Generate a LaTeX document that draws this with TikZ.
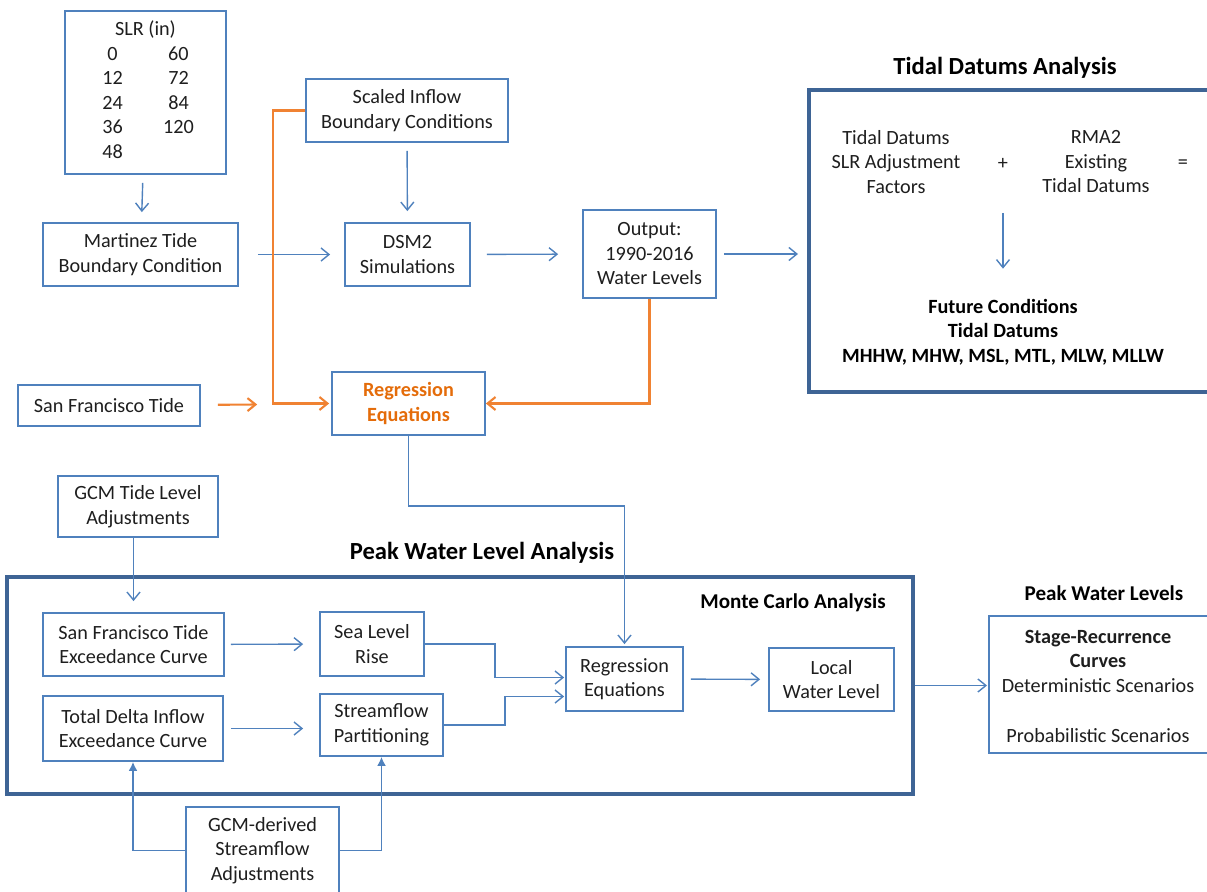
\documentclass[tikz,border=0pt]{standalone}
\usepackage{fontspec}
\setmainfont{Carlito}
\usetikzlibrary{arrows.meta}
\usetikzlibrary{calc}

\definecolor{lineblue}{RGB}{79,129,189}
\definecolor{frameblue}{RGB}{62,100,149}
\definecolor{lineorange}{RGB}{240,130,50}
\definecolor{textorange}{RGB}{228,108,10}
\definecolor{textgray}{RGB}{30,30,30}

\tikzset{
  box/.style={draw=lineblue, line width=1pt, align=center, inner sep=0pt, text=textgray},
  bigframe/.style={draw=frameblue, line width=2.2pt},
  txt/.style={align=center, inner sep=0pt, text=textgray},
  heading/.style={font=\fontsize{14}{17}\selectfont\bfseries, inner sep=0pt, text=black},
  subheading/.style={font=\fontsize{12}{14.5}\selectfont\bfseries, inner sep=0pt, text=black},
  barrow/.style={draw=lineblue, line width=0.8pt, arrows = -{Straight Barb[length=1.6mm,width=2.6mm]}},
  oarrow/.style={color=lineorange, line width=1.2pt, arrows = -{Straight Barb[length=1.6mm,width=2.6mm]}},
  farrow/.style={draw=lineblue, line width=1pt, arrows = -{Latex[length=1.8mm,width=1.8mm]}}
}

\newcommand{\slrcol}[2]{\makebox[1.32cm]{#1}\makebox[1.32cm]{#2}}

\begin{document}
\begin{tikzpicture}[x=0.02cm, y=-0.02cm, font=\fontsize{11.5}{13.95}\selectfont]

            %\draw [help lines] (0,0) grid (1207,892);
            \useasboundingbox (0,0) rectangle (1207,892);

            % upper half: tides and DSM2 runs
            \path   (145.5,92.5)  node (slr) [box, minimum width=3.22cm, minimum height=3.26cm]
                        {SLR (in)\\ \slrcol{0}{60}\\ \slrcol{12}{72}\\ \slrcol{24}{84}\\ \slrcol{36}{120}\\ \slrcol{48}{}\\[-0.37cm]\mbox{}}
                    (140.5,254.5) node (mart) [box, minimum width=3.9cm, minimum height=1.26cm] {Martinez Tide\\Boundary Condition}
                    (407,110.5)   node (scaled) [box, minimum width=4.04cm, minimum height=1.26cm] {Scaled Inflow\\Boundary Conditions}
                    (407.5,254.5) node (dsm) [box, minimum width=2.5cm, minimum height=1.26cm] {DSM2\\Simulations}
                    (649.5,254)   node (outp) [box, minimum width=2.66cm, minimum height=1.76cm] {Output:\\1990-2016\\Water Levels}
                    (109,405.5)   node (sf) [box, minimum width=3.64cm, minimum height=0.82cm] {San Francisco Tide}
                    (408.5,403.5) node (regr) [box, minimum width=3.06cm, minimum height=1.26cm, text=textorange, font=\fontsize{11.5}{13.95}\selectfont\bfseries] {Regression\\Equations};

            % tidal datums frame (runs off the right edge)
            \draw[bigframe] (1207,90) -| (809,392) -- (1207,392);
            \coordinate (tdl) at (809,254);
            \path   (1005,68)  node (tda) [heading] {Tidal Datums Analysis}
                    (896,162)  node (adj) [txt] {Tidal Datums\\SLR Adjustment\\Factors}
                    (1003,164) node (plus) [txt] {+}
                    (1096,162) node (rma) [txt] {RMA2\\Existing\\Tidal Datums}
                    (1183,164) node (eq) [txt] {=}
                    (1003,332) node (fut) [txt, font=\fontsize{11.5}{13.95}\selectfont\bfseries, text=black]
                        {Future Conditions\\Tidal Datums\\MHHW, MHW, MSL, MTL, MLW, MLLW};

            \draw[barrow, shorten <=0.16cm, shorten >=0.2cm] (slr) -- (mart);
            \draw[barrow, shorten <=0.16cm, shorten >=0.22cm] (scaled) -- (dsm);
            \draw[barrow, shorten <=0.38cm, shorten >=0.28cm] (mart) -- (dsm);
            \draw[barrow, shorten <=0.32cm, shorten >=0.48cm] (dsm) -- (outp);
            \draw[barrow, shorten <=0.14cm, shorten >=0.22cm] (outp) -- (tdl);
            \draw[barrow, shorten <=0.98cm, shorten >=0.6cm] (plus.center) -- (fut.north);

            \draw[oarrow, shorten <=0.34cm, shorten >=1.48cm] (sf) -- (regr);
            \draw[oarrow, shorten >=0.04cm] (scaled.west) -- ++(-32,0) |- (regr.west);
            \draw[oarrow] (outp.south) |- (regr.east);

            % lower half: peak water levels
            \path   (460,685.5)   node (peak) [bigframe, minimum width=18.12cm, minimum height=4.34cm] {}
                    (482,553)     node (pwla) [heading] {Peak Water Level Analysis}
                    (793,603)     node (mca) [subheading] {Monte Carlo Analysis}
                    (1104,593)    node (pwl) [subheading] {Peak Water Levels}
                    (138,506.5)   node (gcmt) [box, minimum width=3.2cm, minimum height=1.22cm] {GCM Tide Level\\Adjustments}
                    (133.5,644.5) node (sfx) [box, minimum width=3.62cm, minimum height=1.26cm] {San Francisco Tide\\Exceedance Curve}
                    (133,728.5)   node (tdi) [box, minimum width=3.6cm, minimum height=1.3cm] {Total Delta Inflow\\Exceedance Curve}
                    (372,644)     node (slrise) [box, minimum width=2.08cm, minimum height=1.28cm] {Sea Level\\Rise}
                    (381.5,725)   node (sfp) [box, minimum width=2.46cm, minimum height=1.24cm] {Streamflow\\Partitioning}
                    (624.5,679)   node (regr2) [box, minimum width=2.34cm, minimum height=1.28cm] {Regression\\Equations}
                    (831.5,679.5) node (local) [box, minimum width=2.5cm, minimum height=1.26cm] {Local\\Water Level}
                    (262.5,850.5) node (gcmd) [box, minimum width=3.06cm, minimum height=1.74cm] {GCM-derived\\Streamflow\\Adjustments};

            % stage-recurrence frame (runs off the right edge)
            \draw[box] (1207,616) -| (989,753) -- (1207,753);
            \coordinate (stw) at (989,685.5);
            \path   (1098,686) node (stg) [txt]
                        {\textbf{Stage-Recurrence}\\\textbf{Curves}\\Deterministic Scenarios\\[14.5pt]Probabilistic Scenarios};

            \draw[barrow, shorten >=0.04cm] (regr.south) -- ++(0,70) -| (regr2.north);
            \draw[barrow, shorten >=0.22cm] (sfx.north |- gcmt.south) -- (sfx.north);
            \draw[barrow, shorten <=0.12cm, shorten >=0.32cm] (sfx) -- (slrise);
            \draw[barrow, shorten <=0.14cm, shorten >=0.32cm] (tdi.east) -- (tdi.east -| sfp.west);
            \draw[barrow, shorten >=0.02cm] (slrise.east) -- ++(70,0) |- ($(regr2.west)+(0,-1.5)$);
            \draw[barrow, shorten >=0.02cm] (sfp.east) -- ++(61,0) |- ($(regr2.west)+(0,17.5)$);
            \draw[barrow, shorten <=0.14cm, shorten >=0.16cm] (regr2) -- (local);
            \draw[barrow, shorten >=0.04cm] (peak.east) -- (stw);
            \draw[farrow] (gcmd.west) -| (tdi.south);
            \draw[farrow] (gcmd.east) -| (sfp.south);

        \end{tikzpicture}
\end{document}
